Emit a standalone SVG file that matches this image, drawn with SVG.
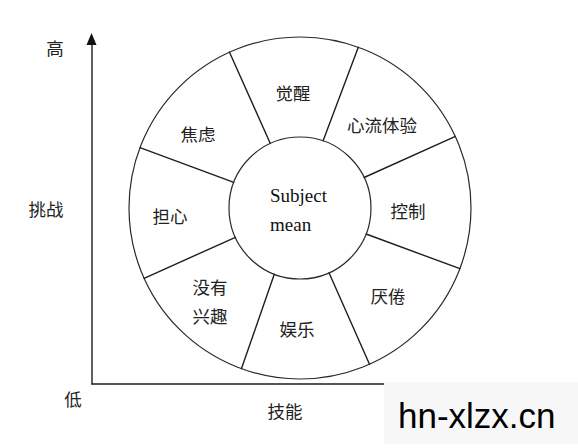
<svg xmlns="http://www.w3.org/2000/svg" width="578" height="448" viewBox="0 0 578 448">
<style>
.ln{stroke:#1e1e1e;stroke-width:1.4;fill:none;stroke-linecap:round}
.ring{stroke:#2a2a2a;stroke-width:1.2;fill:none}
.zh{font-family:"Noto Sans CJK SC","Noto Sans",sans-serif;font-size:17.5px;fill:#222;text-anchor:middle;dominant-baseline:central}
.en{font-family:"Liberation Serif",serif;font-size:19px;fill:#111}
.wm{font-family:"Liberation Sans",Arial,sans-serif;font-size:35px;fill:#000}
</style>
<rect width="578" height="448" fill="#fff"/>
<g id="axes">
<line class="ln" x1="92" y1="44" x2="92" y2="384"/>
<line class="ln" x1="92" y1="384" x2="400" y2="384"/>
<polygon points="91.5,33 86.5,45 96.5,45" fill="#111"/>
</g>
<g id="outer-circle"><circle class="ring" cx="300" cy="208" r="171"/></g>
<g id="connectors">
<line class="ln" x1="140" y1="147.6" x2="233.8" y2="182.3"/>
<line class="ln" x1="144.1" y1="278.3" x2="235.4" y2="237.3"/>
<line class="ln" x1="229.5" y1="52.2" x2="270.3" y2="143.5"/>
<line class="ln" x1="358.3" y1="47.2" x2="323.1" y2="140.8"/>
<line class="ln" x1="455.4" y1="136.4" x2="364.1" y2="177.5"/>
<line class="ln" x1="459.9" y1="268.7" x2="366.1" y2="234"/>
<line class="ln" x1="369.5" y1="364.2" x2="329" y2="272.8"/>
<line class="ln" x1="241.4" y1="368.7" x2="274.3" y2="274.2"/>
</g>
<g id="center">
<circle class="ring" cx="300" cy="208" r="71"/>
<text class="en" x="270" y="202">Subject</text>
<text class="en" x="270" y="231">mean</text>
</g>
<g id="n-juexing"><text class="zh" x="293" y="92">觉醒</text></g>
<g id="n-xinliu"><text class="zh" x="382" y="124">心流体验</text></g>
<g id="n-kongzhi"><text class="zh" x="408" y="210">控制</text></g>
<g id="n-yanjuan"><text class="zh" x="388" y="295">厌倦</text></g>
<g id="n-yule"><text class="zh" x="297" y="328">娱乐</text></g>
<g id="n-meiyou"><text class="zh" x="210" y="286">没有</text><text class="zh" x="210" y="315">兴趣</text></g>
<g id="n-danxin"><text class="zh" x="170" y="215">担心</text></g>
<g id="n-jiaolv"><text class="zh" x="198" y="133">焦虑</text></g>
<g id="labels">
<text class="zh" x="55" y="47">高</text>
<text class="zh" x="46" y="208">挑战</text>
<text class="zh" x="73" y="398">低</text>
<text class="zh" x="285" y="410">技能</text>
</g>
<g id="watermark">
<rect x="384" y="382" width="194" height="62" fill="#f7f7f7"/>
<text class="wm" x="398" y="428">hn-xlzx.cn</text>
</g>
</svg>
